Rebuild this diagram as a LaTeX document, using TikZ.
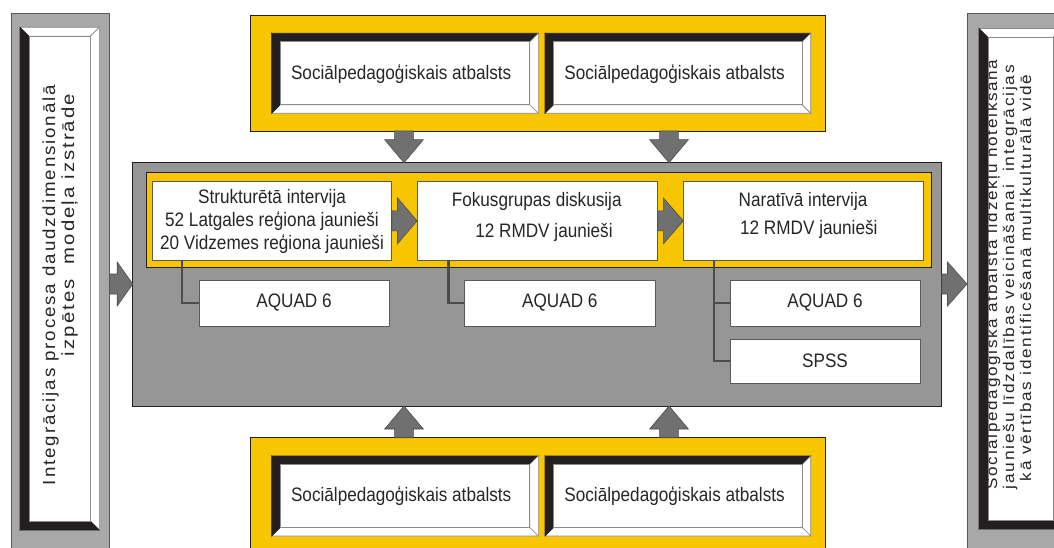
\documentclass[tikz,border=0pt]{standalone}
\usepackage{graphicx}
\usepackage{fontspec}
\setmainfont{Liberation Sans}
\newfontfamily\boxfont[FakeStretch=0.88]{Liberation Sans}
\newfontfamily\sidefont[LetterSpace=10]{Liberation Sans}
\usetikzlibrary{calc}

\definecolor{bandyellow}{RGB}{248,198,0}
\definecolor{stagegray}{RGB}{150,150,150}
\definecolor{panelgray}{RGB}{168,168,168}
\definecolor{arrowgray}{RGB}{112,112,112}
\definecolor{bevdark}{RGB}{35,31,32}
\definecolor{edgegray}{RGB}{90,90,90}
\definecolor{lightedge}{RGB}{140,140,140}

\tikzset{
  every node/.style={inner sep=0pt, outer sep=0pt},
  panelbox/.style={draw=edgegray, fill=panelgray, line width=0.8pt},
  yellowband/.style={draw=bevdark, fill=bandyellow, line width=0.8pt},
  stagebox/.style={draw=bevdark, fill=stagegray, line width=1pt},
  whitebox/.style={draw=edgegray, fill=white, line width=0.8pt},
  lightface/.style={draw=lightedge, fill=white, line width=0.6pt},
  darkface/.style={draw=bevdark, fill=bevdark, line width=0.6pt},
  boxtext/.style={font=\boxfont\fontsize{19.5}{23}\selectfont, text=black!85},
  sidetextL/.style={font=\sidefont\fontsize{17.5}{19}\selectfont, text=black!85, rotate=90},
  sidetextR/.style={font=\sidefont\fontsize{15.5}{17}\selectfont, text=black!85, rotate=90},
  connector/.style={draw=black!70, line width=2.6pt},
  blockarrowstyle/.style={fill=arrowgray, draw=black!70, line width=0.6pt},
}

% a line of text widened to a given length, height unchanged
\newcommand\fitline[2]{\resizebox{#1}{\height}{#2}}

% raised frame: x1 y1 x2 y2 thickness, then styles of top/right/bottom/left faces
\newcommand\bevelframe[9]{%
  \filldraw[#6] (#1,#2) -- (#3,#2) -- ({#3-#5},{#2+#5}) -- ({#1+#5},{#2+#5}) -- cycle;
  \filldraw[#7] (#3,#2) -- (#3,#4) -- ({#3-#5},{#4-#5}) -- ({#3-#5},{#2+#5}) -- cycle;
  \filldraw[#8] (#3,#4) -- (#1,#4) -- ({#1+#5},{#4-#5}) -- ({#3-#5},{#4-#5}) -- cycle;
  \filldraw[#9] (#1,#4) -- (#1,#2) -- ({#1+#5},{#2+#5}) -- ({#1+#5},{#4-#5}) -- cycle;}

% broad arrow from #1 to #2: shaft half width, head half width, head length
\newcommand\blockarrow[5]{%
  \coordinate (bah) at ($(#2)!#5!(#1)$);
  \filldraw[blockarrowstyle] ($(#1)!#3!90:(#2)$) -- ($(bah)!#3!90:(#2)$)
    -- ($(bah)!#4!90:(#2)$) -- (#2) -- ($(bah)!#4!-90:(#2)$)
    -- ($(bah)!#3!-90:(#2)$) -- ($(#1)!#3!-90:(#2)$) -- cycle;}

\begin{document}
\begin{tikzpicture}[x=1pt,y=-1pt]
\useasboundingbox (0,0) rectangle (1054,548);
\clip (0,0) rectangle (1054,548);
\fill[white] (0,0) rectangle (1054,548);

% ---- left panel: aim of the study
\node[panelbox, minimum width=98.3pt, minimum height=546.7pt] (lpanel) at (60.15,286.65) {};
\bevelframe{20}{27.3}{99.3}{530}{9}{lightface}{lightface}{darkface}{darkface}
\node[whitebox, draw=lightedge, minimum width=61.3pt, minimum height=484.7pt] (lbox) at (59.65,278.65) {};
\node[sidetextL, anchor=base west] (ltext1) at (55,485) {\fitline{400pt}{Integrācijas procesa daudzdimensionālā}};
\node[sidetextL, anchor=base east] (ltext2) at (74,94) {\fitline{262pt}{izpētes\ \ modeļa izstrāde}};

% ---- right panel: result
\node[panelbox, minimum width=103pt, minimum height=547pt] (rpanel) at (1018.5,286.5) {};
\bevelframe{979}{28.5}{1062}{529}{9}{lightface}{lightface}{darkface}{darkface}
\node[whitebox, draw=lightedge, minimum width=65pt, minimum height=482.5pt] (rbox) at (1020.5,278.75) {};
\node[sidetextR, anchor=base west] (rtext1) at (997,489.5) {\fitline{430pt}{Sociālpedagoģiskā atbalsta līdzekļu noteikšana}};
\node[sidetextR, anchor=base west] (rtext2) at (1014,489) {\fitline{424pt}{jauniešu līdzdalības veicināšanai\ \ integrācijas}};
\node[sidetextR, anchor=base west] (rtext3) at (1031,481) {\fitline{406pt}{kā vērtības identificēšanā multikulturālā vidē}};

% ---- upper support band
\node[yellowband, minimum width=574.3pt, minimum height=116pt] (topband) at (537.85,73) {};
\bevelframe{271.7}{33.3}{538.3}{113.3}{8.5}{darkface}{lightface}{lightface}{darkface}
\bevelframe{545}{33.3}{810.7}{113.3}{8.5}{darkface}{lightface}{lightface}{darkface}
\node[whitebox, draw=lightedge, minimum width=249.6pt, minimum height=63pt] (tsup1) at (405,73.3) {};
\node[whitebox, draw=lightedge, minimum width=248.7pt, minimum height=63pt] (tsup2) at (677.85,73.3) {};
\node[boxtext, anchor=base] (tsup1t) at (401.2,80) {Sociālpedagoģiskais atbalsts};
\node[boxtext, anchor=base] (tsup2t) at (674.6,80) {Sociālpedagoģiskais atbalsts};

% ---- lower support band
\node[yellowband, minimum width=574.3pt, minimum height=122.3pt] (botband) at (537.85,498.85) {};
\bevelframe{271.7}{456}{538.3}{536}{8.5}{darkface}{lightface}{lightface}{darkface}
\bevelframe{545}{456}{810.7}{536}{8.5}{darkface}{lightface}{lightface}{darkface}
\node[whitebox, draw=lightedge, minimum width=249.6pt, minimum height=63pt] (bsup1) at (405,496) {};
\node[whitebox, draw=lightedge, minimum width=248.7pt, minimum height=63pt] (bsup2) at (677.85,496) {};
\node[boxtext, anchor=base] (bsup1t) at (401.2,501.7) {Sociālpedagoģiskais atbalsts};
\node[boxtext, anchor=base] (bsup2t) at (674.6,501.7) {Sociālpedagoģiskais atbalsts};

% ---- central research stage
\node[stagebox, minimum width=809pt, minimum height=243.3pt] (stage) at (537.2,284.35) {};
\node[yellowband, minimum width=784.3pt, minimum height=94.3pt] (strip) at (538.85,219.85) {};
\node[whitebox, minimum width=239.4pt, minimum height=78.3pt] (m1) at (272,220.85) {};
\node[whitebox, minimum width=240.7pt, minimum height=78.3pt] (m2) at (537.35,220.85) {};
\node[whitebox, minimum width=240pt, minimum height=78.3pt] (m3) at (803.3,220.85) {};

\node[boxtext, anchor=base] (m1a) at (272,203.4) {Strukturētā intervija};
\node[boxtext, anchor=base] (m1b) at (272,226.6) {52 Latgales reģiona jaunieši};
\node[boxtext, anchor=base] (m1c) at (272,249.4) {20 Vidzemes reģiona jaunieši};
\node[boxtext, anchor=base] (m2a) at (536.7,207) {Fokusgrupas diskusija};
\node[boxtext, anchor=base] (m2b) at (544,237.5) {12 RMDV jaunieši};
\node[boxtext, anchor=base] (m3a) at (803,207) {Naratīvā intervija};
\node[boxtext, anchor=base] (m3b) at (808.8,234) {12 RMDV jaunieši};

% analysis tools
\coordinate (k1) at (182,0);
\coordinate (k2) at (448.3,0);
\coordinate (k3) at (714,0);
\node[whitebox, minimum width=190pt, minimum height=46pt] (aq1) at (294,303) {};
\node[whitebox, minimum width=191.7pt, minimum height=46pt] (aq2) at (559.85,303) {};
\node[whitebox, minimum width=190pt, minimum height=46pt] (aq3) at (825,303) {};
\node[whitebox, minimum width=190pt, minimum height=44pt] (spss) at (825,361) {};
\draw[connector] (m1.south -| k1) |- (aq1.west);
\draw[connector] (m2.south -| k2) |- (aq2.west);
\draw[connector] (m3.south -| k3) |- (spss.west);
\draw[connector] (aq3.west -| k3) -- (aq3.west);
\node[boxtext] (aq1t) at (aq1) {AQUAD 6};
\node[boxtext] (aq2t) at (aq2) {AQUAD 6};
\node[boxtext] (aq3t) at (aq3) {AQUAD 6};
\node[boxtext] (spsst) at (spss) {SPSS};

% ---- broad arrows
\blockarrow{m1.east}{m2.west}{10pt}{23pt}{19.5pt}
\blockarrow{m2.east}{m3.west}{10pt}{23pt}{20pt}
\coordinate (ly) at (0,284);
\blockarrow{lpanel.east |- ly}{stage.west |- ly}{10pt}{22pt}{15.5pt}
\blockarrow{stage.east |- ly}{rpanel.west |- ly}{10pt}{22pt}{19.5pt}
\coordinate (ax1) at (404,0);
\coordinate (ax2) at (669,0);
\blockarrow{topband.south -| ax1}{stage.north -| ax1}{9.35pt}{19.35pt}{23pt}
\blockarrow{topband.south -| ax2}{stage.north -| ax2}{9.35pt}{19.35pt}{23pt}
\blockarrow{botband.north -| ax1}{stage.south -| ax1}{9.35pt}{19.35pt}{23pt}
\blockarrow{botband.north -| ax2}{stage.south -| ax2}{9.35pt}{19.35pt}{23pt}
\end{tikzpicture}
\end{document}
